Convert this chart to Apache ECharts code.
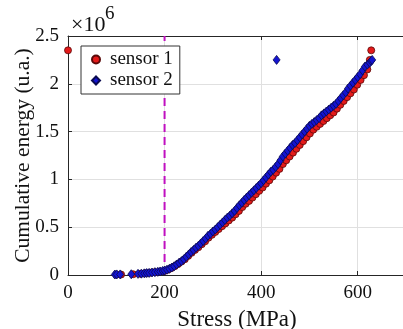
<!DOCTYPE html>
<html><head><meta charset="utf-8">
<script src="https://cdn.jsdelivr.net/npm/echarts@6/dist/echarts.min.js"></script>
<style>html,body{margin:0;padding:0;background:#fff}#c{width:403px;height:329px}</style>
</head><body><div id="c"></div>
<script>
// values in units of 10^6
const s2x = [97,101,108,131,145,152,158,163,168,174,180,186,191,196,200,205,210,215,220,225,230,235,240,245,250,255,260,265,270,275,280,285,290,295,300,305,310,315,320,325,330,335,340,345,350,355,360,365,370,375,380,385,390,395,400,405,410,415,420,425,430,435,440,445,450,455,460,465,470,475,480,485,490,495,500,505,510,515,520,525,530,535,540,545,550,555,560,565,570,575,580,585,590,595,600,605,610,615,620,625,628,630,432];
const s2y = [0.005,0.006,0.006,0.008,0.012,0.014,0.017,0.02,0.022,0.026,0.03,0.033,0.037,0.042,0.046,0.055,0.065,0.078,0.092,0.11,0.128,0.145,0.165,0.19,0.215,0.24,0.262,0.285,0.305,0.33,0.355,0.38,0.41,0.43,0.455,0.475,0.5,0.525,0.55,0.575,0.6,0.62,0.645,0.67,0.7,0.73,0.755,0.785,0.81,0.835,0.86,0.885,0.91,0.935,0.96,0.99,1.02,1.05,1.08,1.1,1.13,1.16,1.2,1.24,1.27,1.3,1.33,1.36,1.38,1.41,1.44,1.47,1.5,1.53,1.56,1.58,1.6,1.62,1.64,1.67,1.69,1.71,1.73,1.75,1.77,1.79,1.82,1.85,1.88,1.91,1.95,1.98,2.01,2.04,2.07,2.1,2.14,2.18,2.2,2.22,2.24,2.25,2.25];
const s1x = [0,100,110,135,150,160,170,180,190,200,207,214,221,228,235,242,249,256,263,270,277,284,291,298,305,312,319,326,333,340,347,354,361,368,375,382,389,396,403,410,417,424,431,438,445,452,459,466,473,480,487,494,501,508,515,522,529,536,543,550,557,564,571,578,585,592,599,606,613,620,625,628];
const s1y = [2.35,0.004,0.005,0.008,0.012,0.018,0.024,0.03,0.036,0.044,0.056,0.072,0.092,0.115,0.14,0.165,0.2,0.232,0.262,0.29,0.322,0.352,0.39,0.42,0.45,0.48,0.51,0.54,0.57,0.6,0.635,0.67,0.71,0.745,0.775,0.81,0.845,0.88,0.915,0.955,0.99,1.03,1.07,1.11,1.16,1.2,1.24,1.28,1.32,1.36,1.4,1.44,1.48,1.52,1.55,1.58,1.61,1.64,1.67,1.7,1.74,1.78,1.82,1.86,1.9,1.94,1.99,2.04,2.09,2.15,2.25,2.35];
const dashX = 200;
const dashY = [0, 2.5];
const xTicks = {min:0, max:700, interval:200};
const yTicks = {min:0, max:2.5, interval:0.5};
const names = ['sensor 1','sensor 2'];

const zip = (a,b)=>a.map((v,i)=>[v,b[i]]);
const font = 'Liberation Serif';
const chart = echarts.init(document.getElementById('c'));
chart.setOption({
  animation:false,
  backgroundColor:'#fff',
  grid:{left:68, top:36, right:-3, bottom:54, containLabel:false, outerBoundsMode:'none'},
  legend:{
    orient:'vertical', left:81, top:46, itemWidth:8, itemHeight:8, itemGap:2,
    backgroundColor:'#fff', borderColor:'#333', borderWidth:1, padding:[4,7,4,10],
    textStyle:{fontFamily:font, fontSize:19, lineHeight:19, color:'#111', padding:[0,0,0,5]},
    data:[{name:names[0], icon:'circle'},{name:names[1], icon:'diamond'}]
  },
  xAxis:[{
    type:'value', min:xTicks.min, max:xTicks.max, interval:xTicks.interval,
    name:'Stress (MPa)', nameLocation:'middle', nameGap:33,
    nameTextStyle:{fontFamily:font, fontSize:23, color:'#111'},
    axisLine:{lineStyle:{color:'#262626'}},
    axisTick:{inside:true, length:4, lineStyle:{color:'#262626'}},
    axisLabel:{fontFamily:font, fontSize:19, color:'#111', margin:9, showMaxLabel:false},
    splitLine:{show:true, lineStyle:{color:'#e0e0e0'}}
  },{
    type:'value', position:'top', min:xTicks.min, max:xTicks.max, interval:xTicks.interval,
    axisLine:{show:true, lineStyle:{color:'#262626'}},
    axisTick:{show:true, inside:true, length:4, lineStyle:{color:'#262626'}},
    axisLabel:{show:false}, splitLine:{show:false}
  }],
  yAxis:[{
    type:'value', min:yTicks.min, max:yTicks.max, interval:yTicks.interval,
    name:'Cumulative energy (u.a.)', nameLocation:'middle', nameGap:34, nameMoveOverlap:false,
    nameTextStyle:{fontFamily:font, fontSize:21.5, color:'#111'},
    axisLine:{show:true, lineStyle:{color:'#262626'}},
    axisTick:{show:true, inside:true, length:4, lineStyle:{color:'#262626'}},
    axisLabel:{fontFamily:font, fontSize:19, color:'#111', margin:9},
    splitLine:{show:true, lineStyle:{color:'#e0e0e0'}}
  }],
  graphic:[
    {type:'text', x:71, y:14, style:{text:'×10', fontSize:22, fontFamily:font, fill:'#111'}},
    {type:'text', x:105, y:5, style:{text:'6', fontSize:19, fontFamily:font, fill:'#111'}}
  ],
  series:[
    {
      name:names[0], type:'scatter', symbol:'circle', symbolSize:7,
      itemStyle:{color:'#e41a1a', borderColor:'#5a0a0a', borderWidth:0.8, opacity:1},
      data:zip(s1x,s1y), z:3
    },
    {
      name:names[1], type:'scatter', symbol:'diamond', symbolSize:[7,9],
      itemStyle:{color:'#1414d2', borderColor:'#0a0a50', borderWidth:0.8, opacity:1},
      data:zip(s2x,s2y), z:4
    },
    {
      name:'dash', type:'line', symbol:'none', silent:true,
      lineStyle:{color:'#c010c0', width:2, type:[8,5]},
      data:dashY.map(y=>[dashX,y]), z:2
    }
  ]
});
</script></body></html>
